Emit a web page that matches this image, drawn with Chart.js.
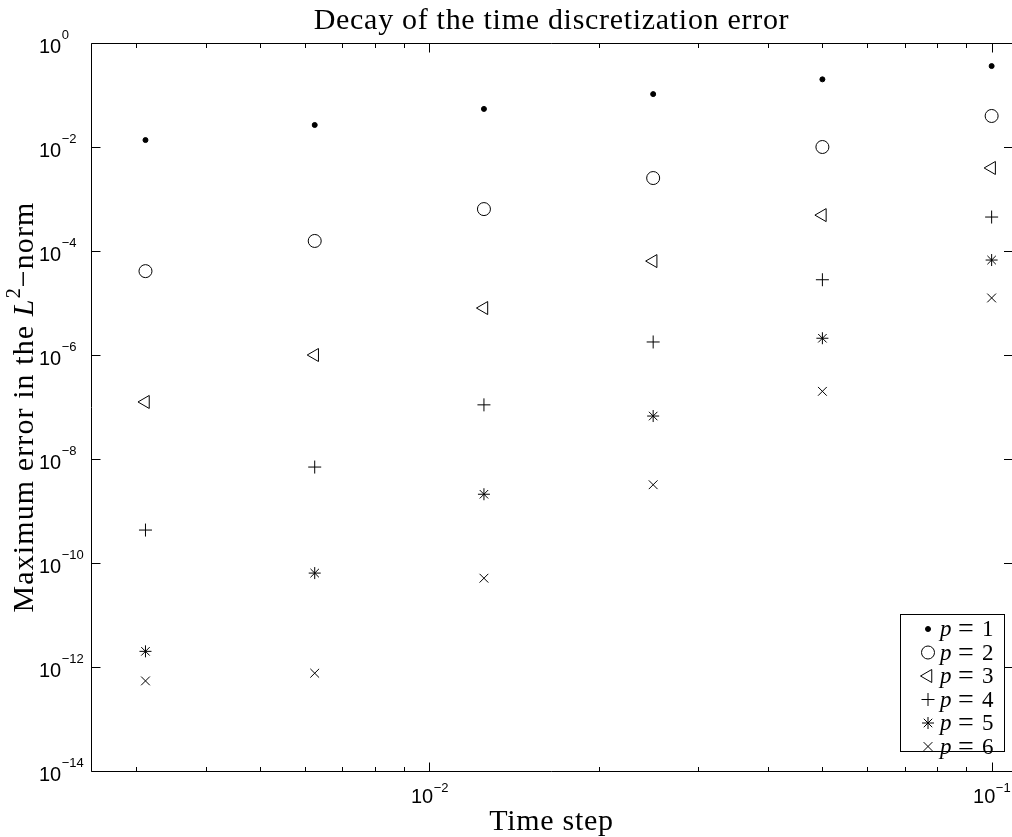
<!DOCTYPE html>
<html>
<head>
<meta charset="utf-8">
<script src="https://cdn.jsdelivr.net/npm/chart.js@4.4.0/dist/chart.umd.min.js"></script>
<style>
  html, body { margin: 0; padding: 0; background: #fff; }
  #wrap { width: 1012px; height: 837px; }
</style>
</head>
<body>
<div id="wrap"><canvas id="errorChart" width="1012" height="837"></canvas></div>
<script>
// time steps (x) and maximum L2 errors for each polynomial degree p
const timeSteps = [0.1, 0.05, 0.025, 0.0125, 0.00625, 0.003125];
const errP1 = [0.36, 0.20, 0.104, 0.054, 0.0265, 0.0136];
const errP2 = [0.0395, 0.0100, 0.00253, 6.4e-4, 1.56e-4, 4.1e-5];
const errP3 = [3.95e-3, 4.9e-4, 6.4e-5, 8.0e-6, 1.0e-6, 1.25e-7];
const errP4 = [4.5e-4, 2.8e-5, 1.78e-6, 1.1e-7, 7.0e-9, 4.3e-10];
const errP5 = [6.7e-5, 2.1e-6, 6.7e-8, 2.1e-9, 6.4e-11, 2.0e-12];
const errP6 = [1.25e-5, 2.0e-7, 3.2e-9, 5.1e-11, 7.6e-13, 5.4e-13];
const degreeLabels = ["1", "2", "3", "4", "5", "6"];

const xMajorTicks = [0.01, 0.1];
const xMajorExps = ["\u22122", "\u22121"];
const xMinorTicks = [0.003, 0.004, 0.005, 0.006, 0.007, 0.008, 0.009,
                     0.02, 0.03, 0.04, 0.05, 0.06, 0.07, 0.08, 0.09];
const yTicks = [1, 1e-2, 1e-4, 1e-6, 1e-8, 1e-10, 1e-12, 1e-14];
const yTickExps = ["0", "\u22122", "\u22124", "\u22126", "\u22128", "\u221210", "\u221212", "\u221214"];

const SANS = '"Liberation Sans", Arial, sans-serif';
const SERIF = '"Liberation Serif", "Times New Roman", serif';

function toPoints(ys) {
  return timeSteps.map((t, i) => ({ x: t, y: ys[i] }));
}

const none = "rgba(0,0,0,0)";
const datasets = [
  { label: degreeLabels[0], data: toPoints(errP1), pointStyle: "circle", pointRadius: 2.5, backgroundColor: "#000", borderColor: "#000", borderWidth: 1 },
  { label: degreeLabels[1], data: toPoints(errP2), pointStyle: "circle", pointRadius: 6.5, backgroundColor: none, borderColor: "#000", borderWidth: 1 },
  { label: degreeLabels[2], data: toPoints(errP3), pointStyle: "triangle", rotation: -90, pointRadius: 7.5, backgroundColor: none, borderColor: "#000", borderWidth: 1 },
  { label: degreeLabels[3], data: toPoints(errP4), pointStyle: "cross", pointRadius: 6.5, backgroundColor: none, borderColor: "#000", borderWidth: 1 },
  { label: degreeLabels[4], data: toPoints(errP5), pointStyle: "star", pointRadius: 6, backgroundColor: none, borderColor: "#000", borderWidth: 1 },
  { label: degreeLabels[5], data: toPoints(errP6), pointStyle: "crossRot", pointRadius: 6.2, backgroundColor: none, borderColor: "#000", borderWidth: 1 }
];

// matlab style box, inward ticks, 10^n labels, titles and legend
const matlabAxes = {
  id: "matlabAxes",
  afterDraw(chart) {
    const ctx = chart.ctx;
    const a = chart.chartArea;
    const xs = chart.scales.x, ys = chart.scales.y;
    const L = Math.round(a.left) + 0.5, T = Math.round(a.top) + 0.5;
    const B = Math.round(a.bottom) + 0.5, R = a.right;
    ctx.save();
    ctx.strokeStyle = "#000";
    ctx.fillStyle = "#000";
    ctx.lineWidth = 1;

    ctx.beginPath();
    ctx.moveTo(L, B); ctx.lineTo(L, T); ctx.lineTo(R, T);
    ctx.moveTo(L, B); ctx.lineTo(R, B);
    ctx.stroke();

    // y ticks
    ctx.beginPath();
    yTicks.forEach(v => {
      const y = Math.round(ys.getPixelForValue(v)) + 0.5;
      ctx.moveTo(L, y); ctx.lineTo(L + 9, y);
      ctx.moveTo(R, y); ctx.lineTo(R - 8, y);
    });
    // x ticks
    xMajorTicks.forEach(v => {
      const x = Math.round(xs.getPixelForValue(v)) + 0.5;
      ctx.moveTo(x, B); ctx.lineTo(x, B - 9);
      ctx.moveTo(x, T); ctx.lineTo(x, T + 9);
    });
    xMinorTicks.forEach(v => {
      const x = Math.round(xs.getPixelForValue(v)) + 0.5;
      ctx.moveTo(x, B); ctx.lineTo(x, B - 4.5);
      ctx.moveTo(x, T); ctx.lineTo(x, T + 4.5);
    });
    ctx.stroke();

    ctx.textBaseline = "alphabetic";
    ctx.textAlign = "left";
    yTicks.forEach((v, i) => {
      const y = ys.getPixelForValue(v);
      ctx.font = "20px " + SANS;
      ctx.fillText("10", 39, y + 10);
      const w = ctx.measureText("10").width;
      ctx.font = "13px " + SANS;
      ctx.fillText(yTickExps[i], 39 + w + 0.5, y - 4);
    });
    xMajorTicks.forEach((v, i) => {
      const x = xs.getPixelForValue(v);
      ctx.font = "20px " + SANS;
      const w1 = ctx.measureText("10").width;
      ctx.font = "13px " + SANS;
      const w2 = ctx.measureText(xMajorExps[i]).width;
      const x0 = x - (w1 + w2) / 2;
      ctx.font = "20px " + SANS;
      ctx.fillText("10", x0, a.bottom + 32);
      ctx.font = "13px " + SANS;
      ctx.fillText(xMajorExps[i], x0 + w1 + 0.5, a.bottom + 21);
    });

    // titles
    const cx = (a.left + a.right) / 2;
    ctx.textAlign = "center";
    ctx.font = "30px " + SERIF;
    ctx.letterSpacing = "0.7px";
    ctx.fillText("Decay of the time discretization error", cx, 29);
    ctx.fillText("Time step", cx, 830);

    // y title with italic L and superscript
    ctx.save();
    ctx.translate(33, (a.top + a.bottom) / 2);
    ctx.rotate(-Math.PI / 2);
    ctx.textAlign = "left";
    ctx.letterSpacing = "1.1px";
    const parts = [
      { t: "Maximum error in the ", f: "30px " + SERIF, dy: 0 },
      { t: "L", f: "italic 30px " + SERIF, dy: 0 },
      { t: "2", f: "20px " + SERIF, dy: -13 },
      { t: "\u2212norm", f: "30px " + SERIF, dy: 0 }
    ];
    let total = 0;
    parts.forEach(p => { ctx.font = p.f; p.w = ctx.measureText(p.t).width; total += p.w; });
    let px = -total / 2;
    parts.forEach(p => { ctx.font = p.f; ctx.fillText(p.t, px, p.dy); px += p.w; });
    ctx.restore();
    ctx.letterSpacing = "0px";

    // legend
    const lx = 900.5, ly = 614.5, lw = 104, lh = 137;
    ctx.fillStyle = "#fff";
    ctx.fillRect(lx, ly, lw, lh);
    ctx.strokeRect(lx, ly, lw, lh);
    chart.data.datasets.forEach((ds, i) => {
      const my = 629 + i * 23.5;
      ctx.strokeStyle = "#000";
      ctx.fillStyle = ds.backgroundColor;
      ctx.lineWidth = 1;
      Chart.helpers.drawPoint(ctx, {
        pointStyle: ds.pointStyle,
        rotation: ds.rotation || 0,
        radius: ds.pointRadius,
        borderWidth: 1
      }, 928, my);
      ctx.fillStyle = "#000";
      ctx.textAlign = "left";
      ctx.font = "italic 23px " + SERIF;
      ctx.fillText("p", 940, my + 7);
      ctx.textAlign = "center";
      ctx.font = "28px " + SERIF;
      ctx.fillText("=", 966, my + 8);
      ctx.textAlign = "left";
      ctx.font = "23px " + SERIF;
      ctx.fillText(ds.label, 982, my + 7);
    });
    ctx.restore();
  }
};

new Chart(document.getElementById("errorChart").getContext("2d"), {
  type: "scatter",
  data: { datasets: datasets },
  options: {
    responsive: false,
    animation: false,
    events: [],
    layout: { autoPadding: false, padding: { top: 43, left: 0, right: 0, bottom: 0 } },
    plugins: {
      legend: { display: false },
      title: { display: false },
      tooltip: { enabled: false }
    },
    scales: {
      x: {
        type: "logarithmic",
        min: 0.0025,
        max: 0.1087,
        grid: { display: false },
        border: { display: false },
        ticks: { display: false },
        afterFit(scale) { scale.height = 66; }
      },
      y: {
        type: "logarithmic",
        min: 1e-14,
        max: 1,
        grid: { display: false },
        border: { display: false },
        ticks: { display: false },
        afterFit(scale) { scale.width = 91; }
      }
    }
  },
  plugins: [matlabAxes]
});
</script>
</body>
</html>
